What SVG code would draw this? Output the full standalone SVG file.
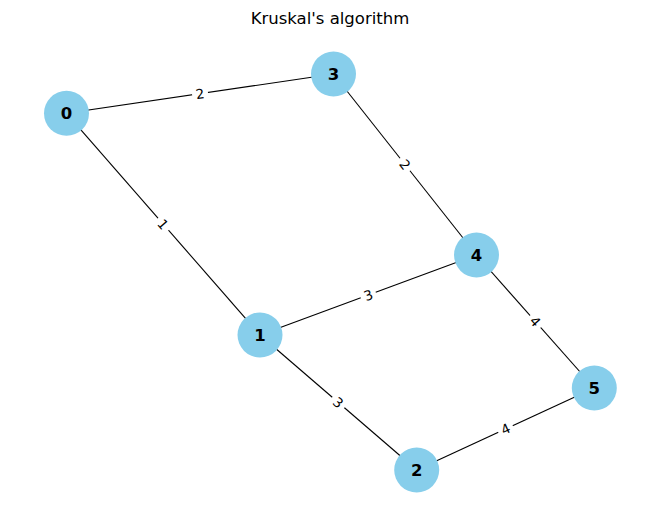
<svg xmlns="http://www.w3.org/2000/svg" width="660" height="522" viewBox="0 0 660 522">
<style>
.edge{stroke:#000;stroke-width:1.1;fill:none}
.node circle{fill:#87ceeb}
.node text{font-family:"DejaVu Sans",sans-serif;font-size:16.5px;font-weight:bold;text-anchor:middle;dominant-baseline:central;fill:#000}
.el rect{fill:#fff}
.el text{font-family:"DejaVu Sans",sans-serif;font-size:13.5px;text-anchor:middle;dominant-baseline:central;fill:#000}
.title{font-family:"DejaVu Sans",sans-serif;font-size:16.5px;text-anchor:middle;fill:#000}
</style>
<rect width="660" height="522" fill="#fff"/>
<text class="title" x="330" y="24">Kruskal's algorithm</text>
<g id="connectors">
<line class="edge" x1="66.5" y1="113.3" x2="333.5" y2="74"/>
<line class="edge" x1="66.5" y1="113.3" x2="260" y2="335"/>
<line class="edge" x1="333.5" y1="74" x2="476.5" y2="255"/>
<line class="edge" x1="260" y1="335" x2="476.5" y2="255"/>
<line class="edge" x1="260" y1="335" x2="416.7" y2="470"/>
<line class="edge" x1="476.5" y1="255" x2="594.3" y2="388"/>
<line class="edge" x1="416.7" y1="470" x2="594.3" y2="388"/>
<g class="el" transform="translate(200,93.6) rotate(-8.4)"><rect x="-8" y="-8" width="16" height="16"/><text>2</text></g>
<g class="el" transform="translate(163.2,224.2) rotate(48.9)"><rect x="-8" y="-8" width="16" height="16"/><text>1</text></g>
<g class="el" transform="translate(405,164.5) rotate(51.7)"><rect x="-8" y="-8" width="16" height="16"/><text>2</text></g>
<g class="el" transform="translate(368.2,295) rotate(-20.3)"><rect x="-8" y="-8" width="16" height="16"/><text>3</text></g>
<g class="el" transform="translate(338.3,402.5) rotate(40.7)"><rect x="-8" y="-8" width="16" height="16"/><text>3</text></g>
<g class="el" transform="translate(535.4,321.5) rotate(48.5)"><rect x="-8" y="-8" width="16" height="16"/><text>4</text></g>
<g class="el" transform="translate(505.5,429) rotate(-24.8)"><rect x="-8" y="-8" width="16" height="16"/><text>4</text></g>
</g>
<g id="node0" class="node"><circle cx="66.5" cy="113.3" r="22.5"/><text x="66.5" y="113.3">0</text></g>
<g id="node3" class="node"><circle cx="333.5" cy="74" r="22.5"/><text x="333.5" y="74">3</text></g>
<g id="node4" class="node"><circle cx="476.5" cy="255" r="22.5"/><text x="476.5" y="255">4</text></g>
<g id="node1" class="node"><circle cx="260" cy="335" r="22.5"/><text x="260" y="335">1</text></g>
<g id="node5" class="node"><circle cx="594.3" cy="388" r="22.5"/><text x="594.3" y="388">5</text></g>
<g id="node2" class="node"><circle cx="416.7" cy="470" r="22.5"/><text x="416.7" y="470">2</text></g>
</svg>
